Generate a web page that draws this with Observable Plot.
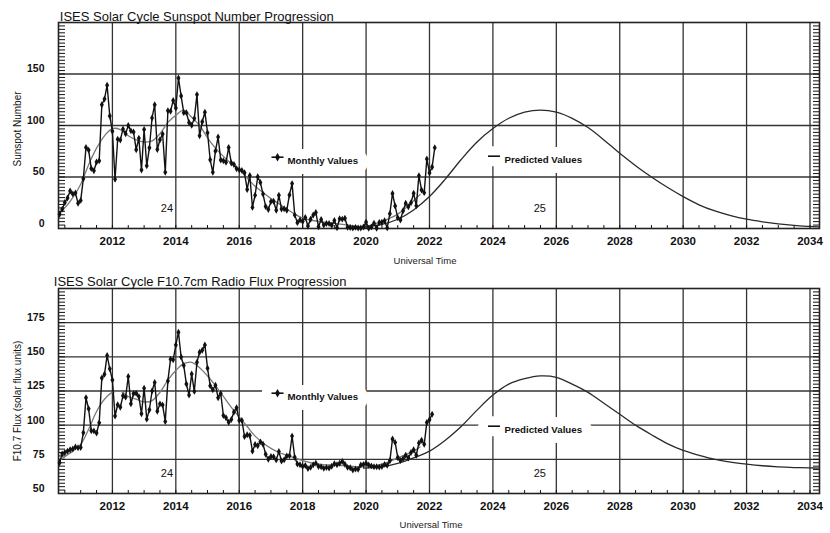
<!DOCTYPE html>
<html><head><meta charset="utf-8">
<script src="https://cdn.jsdelivr.net/npm/d3@7"></script>
<script src="https://cdn.jsdelivr.net/npm/@observablehq/plot@0.6"></script>
<style>
html,body{margin:0;padding:0;background:#fff;}
#chart{position:relative;width:830px;height:533px;overflow:hidden;background:#fff;}
#chart > svg{position:absolute;left:0;}
</style></head><body><div id="chart"></div>
<script>
// ---------- data ----------
const firstYear = 2010, firstMonth = 5; // monthly series start (May 2010)

const sunspotMonthly = [
  13.9, 18.8, 25.2, 29.6, 36.4, 33.6, 34.4, 24.5,
  27.3, 48.3, 78.6, 76.1, 58.2, 56.1, 64.5, 65.8, 120.1, 125.7, 139.1, 109.3,
  94.4, 47.8, 86.6, 85.9, 96.5, 92.0, 100.1, 94.8, 93.7, 76.5, 87.6, 56.8,
  96.1, 60.9, 78.3, 107.3, 120.2, 76.7, 86.2, 91.8, 54.5, 114.4, 113.9, 124.2,
  117.0, 146.1, 128.7, 112.5, 112.5, 102.9, 100.2, 106.9, 130.0, 90.0, 103.6, 112.9,
  93.0, 66.7, 54.5, 75.3, 88.8, 66.5, 65.8, 64.4, 78.6, 63.6, 62.2, 58.0,
  57.0, 56.4, 54.1, 37.9, 51.5, 20.5, 32.4, 50.2, 44.6, 33.4, 21.4, 18.5,
  26.1, 26.4, 17.7, 32.3, 18.9, 19.2, 17.8, 32.6, 43.6, 13.2, 5.7, 8.2,
  6.8, 10.7, 2.5, 8.9, 13.1, 15.6, 1.6, 8.7, 3.3, 4.9, 4.9, 3.1,
  7.7, 0.8, 9.4, 9.1, 9.9, 1.2, 0.9, 0.5, 1.1, 0.4, 0.5, 1.5,
  6.2, 0.2, 1.5, 5.2, 0.2, 5.8, 6.1, 7.5, 0.6, 14.4, 34.0, 21.8,
  10.4, 8.2, 17.2, 24.5, 21.2, 25.0, 34.3, 22.0, 51.3, 37.4, 34.8, 67.5,
  54.0, 59.7, 78.5
];

const fluxMonthly = [
  72.5, 79, 80, 81, 82, 82.5, 84, 83.5,
  83.7, 94.5, 120, 112, 95.9, 95.8, 94.2, 101.7, 134.5, 137.2, 151, 141.2,
  133.1, 106.7, 115.0, 113.1, 121.5, 120.5, 135.6, 115.7, 123.2, 123.3, 120.9, 108.4,
  127.1, 104.4, 111.3, 125.0, 131.3, 110.2, 115.6, 114.7, 102.7, 132.4, 148.3, 147.8,
  158.6, 168, 149.9, 143.7, 130.1, 122.1, 137.4, 124.7, 146.1, 153.4, 154.8, 158.7,
  141.7, 128.8, 125.9, 129.2, 120.1, 123.2, 107.0, 105.4, 102.1, 104.1, 109.6, 112.8,
  103.5, 103.5, 91.7, 93.0, 92.4, 81.0, 85.9, 85.0, 87.8, 86.1, 78.7, 75.1,
  77.1, 76.9, 74.6, 80.7, 73.8, 74.7, 77.5, 77.6, 92, 76.5, 71.6, 71.1,
  69.9, 70.5, 68.3, 69.1, 71.0, 72.2, 69.8, 69.6, 68.4, 69.0, 68.7, 69.9,
  71.8, 71.0, 72.1, 73.5, 71.4, 69.1, 68.9, 67.2, 67.9, 67.8, 70.9, 71.2,
  72.1, 70.9, 70.2, 69.6, 69.6, 69.3, 69.8, 71.3, 70.6, 73.9, 89.9, 87.4,
  76.3, 74.1, 75.5, 78.0, 76.0, 80.0, 82.0, 78.0, 87.0, 89.0, 86.0, 102.0,
  104.0, 108.0
];

const smoothYears = [2010.33, 2010.5, 2010.75, 2011.0, 2011.25, 2011.5, 2011.75, 2012.0, 2012.25, 2012.5,
  2012.75, 2013.0, 2013.25, 2013.5, 2013.75, 2014.0, 2014.25, 2014.5, 2014.75, 2015.0,
  2015.25, 2015.5, 2015.75, 2016.0, 2016.25, 2016.5, 2016.75, 2017.0, 2017.25, 2017.5,
  2017.75, 2018.0, 2018.25, 2018.5, 2018.75, 2019.0, 2019.25, 2019.5, 2019.75, 2020.0,
  2020.25, 2020.5, 2020.75, 2021.0, 2021.25, 2021.5, 2021.7];
const sunspotSmooth = [15, 20, 30, 43, 62, 78, 90, 97, 96, 90,
  86, 84, 85, 92, 103, 110, 115, 108, 100, 88,
  78, 70, 63, 57, 49, 41, 35, 29, 24, 19,
  14, 10, 8, 7, 6, 5, 4, 3, 2, 2,
  4, 7, 10, 14, 20, 27, 33];
const fluxSmooth = [74, 77, 81, 86, 97, 110, 119, 124, 125, 121,
  119, 117, 118, 124, 133, 140, 145, 146, 142, 136,
  129, 121, 113, 106, 99, 92, 87, 83, 80, 78,
  76, 74, 72.5, 71.5, 71, 71, 70.5, 70, 69.5, 69.5,
  70, 71.5, 73.5, 76, 78.5, 81, 84];

const predYears = [2019.92, 2020.5, 2021.0, 2021.5, 2022.0, 2022.5, 2023.0, 2023.5, 2024.0, 2024.5,
  2025.0, 2025.5, 2026.0, 2026.5, 2027.0, 2027.5, 2028.0, 2028.5, 2029.0, 2029.5,
  2030.0, 2030.5, 2031.0, 2031.5, 2032.0, 2032.5, 2033.0, 2033.5, 2034.0, 2034.3];
const sunspotPredicted = [1.5, 4, 9, 18, 31, 48, 67, 84, 97, 107,
  113, 115, 113, 107, 98, 86, 73, 61, 50, 40,
  31, 23, 17, 12.5, 9, 6.5, 4.5, 3, 2, 1.5];
const fluxPredicted = [68.5, 69.5, 72, 76, 81, 89, 99, 111, 122, 130,
  134, 136, 135, 130, 124, 116, 108, 100, 93, 86.5,
  81.5, 78, 75, 73, 71.5, 70.3, 69.5, 69, 68.7, 68.6];

const xTickYears = [2012, 2014, 2016, 2018, 2020, 2022, 2024, 2026, 2028, 2030, 2032, 2034];
const sunspotTicks = [0, 50, 100, 150];
const sunspotGridValues = [50, 100, 150];
const fluxTicks = [50, 75, 100, 125, 150, 175];
const fluxGridValues = [75, 100, 125, 150, 175];
const cycleLabels = ["24", "25"];
const cycleLabelYears = [2013.72, 2025.48];

const titles = ["ISES Solar Cycle Sunspot Number Progression", "ISES Solar Cycle F10.7cm Radio Flux Progression"];
const yTitles = ["Sunspot Number", "F10.7 Flux (solar flux units)"];
const xTitle = "Universal Time";
const legendLabels = ["Monthly Values", "Predicted Values"];

// ---------- drawing ----------
(function () {
const FONT = "Liberation Sans, Arial, sans-serif";
const X_DOMAIN = [2010.3, 2034.3];
const monthX = i => firstYear + (firstMonth - 1 + i) / 12;
const xMinor = d3.range(2010.5, 2034.3, 0.5);
const dashSymbol = {draw(ctx) { ctx.moveTo(-6, 0); ctx.lineTo(6, 0); }};

function panel(o) {
  const monthly = o.monthly.map((v, i) => ({x: monthX(i), y: v}));
  const smooth = smoothYears.map((x, i) => ({x, y: o.smooth[i]}));
  const pred = predYears.map((x, i) => ({x, y: o.pred[i]}));
  const grid = {stroke: "#333", strokeOpacity: 1, strokeWidth: 1.3};
  const lf = {fontFamily: FONT, fontWeight: "bold", fontSize: 9.7};
  const halo = {fill: "white", stroke: "white", strokeWidth: 20, strokeLinejoin: "round"};
  const L = o.legend;
  return Plot.plot({
    width: 830, height: o.height,
    marginTop: o.marginTop, marginBottom: o.marginBottom, marginLeft: 58, marginRight: 11,
    x: {domain: X_DOMAIN, label: null},
    y: {domain: o.yDomain, label: null},
    style: {fontFamily: FONT, color: "#111", background: "transparent", overflow: "visible"},
    marks: [
      Plot.gridX(xTickYears, grid),
      Plot.gridY(o.grid, grid),
      Plot.axisX(xMinor, {tickSize: -3, tickFormat: () => "", label: null, strokeWidth: 1}),
      Plot.axisY(o.minor, {anchor: "left", tickSize: -7, tickFormat: () => "", label: null, strokeWidth: 1}),
      Plot.axisY(o.minor, {anchor: "right", tickSize: -7, tickFormat: () => "", label: null, strokeWidth: 1}),
      Plot.axisX(xTickYears, {tickSize: 0, tickPadding: 8, tickFormat: d => String(d), label: null,
        fontWeight: "bold", fontSize: 11.5}),
      Plot.axisY(o.ticks, {anchor: "left", tickSize: 0, tickPadding: 14, dy: -5, tickFormat: d => String(d),
        label: null, fontWeight: "bold", fontSize: 10.5}),
      Plot.frame({stroke: "#222", strokeWidth: 1.6}),
      // legend backgrounds
      Plot.text([legendLabels[0]], {frameAnchor: "top-left", dx: 229, dy: L.monthlyDy, textAnchor: "start", ...lf, ...halo}),
      Plot.dot([0], {frameAnchor: "top-left", dx: 219, dy: L.monthlyDy, symbol: dashSymbol, fill: "none",
        stroke: "white", strokeWidth: 20, strokeLinecap: "round"}),
      Plot.text([legendLabels[1]], {frameAnchor: "top-left", dx: 446, dy: L.predDy, textAnchor: "start", ...lf, ...halo}),
      Plot.dot([0], {frameAnchor: "top-left", dx: 435.5, dy: L.predDy, symbol: dashSymbol, fill: "none",
        stroke: "white", strokeWidth: 20, strokeLinecap: "round"}),
      // data
      Plot.line(smooth, {x: "x", y: "y", stroke: "#7a7a7a", strokeWidth: 1.3, curve: "catmull-rom"}),
      Plot.line(pred, {x: "x", y: "y", stroke: "#2a2a2a", strokeWidth: 1.3, curve: "catmull-rom"}),
      Plot.line(monthly, {x: "x", y: "y", stroke: "#111", strokeWidth: 1.4}),
      Plot.dot(monthly, {x: "x", y: "y", symbol: "diamond", r: 2.1, fill: "#111"}),
      // legend foreground
      Plot.dot([0], {frameAnchor: "top-left", dx: 219, dy: L.monthlyDy, symbol: dashSymbol, fill: "none",
        stroke: "#111", strokeWidth: 1.6}),
      Plot.dot([0], {frameAnchor: "top-left", dx: 219, dy: L.monthlyDy, symbol: "diamond", r: 2.6, fill: "#111"}),
      Plot.text([legendLabels[0]], {frameAnchor: "top-left", dx: 229, dy: L.monthlyDy, textAnchor: "start", ...lf, fill: "#111"}),
      Plot.dot([0], {frameAnchor: "top-left", dx: 435.5, dy: L.predDy, symbol: dashSymbol, fill: "none",
        stroke: "#111", strokeWidth: 1.6}),
      Plot.text([legendLabels[1]], {frameAnchor: "top-left", dx: 446, dy: L.predDy, textAnchor: "start", ...lf, fill: "#111"}),
      // cycle labels
      Plot.text(cycleLabels, {x: (d, i) => cycleLabelYears[i], frameAnchor: "bottom", dy: o.cycleDy,
        textAnchor: "middle", fontSize: 11, fontFamily: FONT, fill: "#111"}),
      // titles
      Plot.text([o.title], {frameAnchor: "top-left", dx: o.titleDx, dy: o.titleDy, textAnchor: "start",
        fontSize: 13, fontFamily: FONT, fill: "#111"}),
      Plot.text([o.yTitle], {frameAnchor: "left", rotate: -90, dx: -41, dy: o.yTitleDy, textAnchor: "middle",
        fontSize: 10, fontFamily: FONT, fill: "#111"}),
      Plot.text([xTitle], {frameAnchor: "bottom", dx: o.xTitleDx, dy: o.xTitleDy, textAnchor: "middle",
        fontSize: 9.5, fontFamily: FONT, fill: "#222"})
    ]
  });
}

const topPanel = panel({
  height: 268, marginTop: 22, marginBottom: 40,
  yDomain: [0, 200], ticks: sunspotTicks, grid: sunspotGridValues,
  minor: d3.range(0, 60).map(i => i * 10 / 3),
  monthly: sunspotMonthly, smooth: sunspotSmooth, pred: sunspotPredicted,
  legend: {monthlyDy: 134.7, predDy: 133.7},
  cycleDy: -17, title: titles[0], titleDx: 1.3, titleDy: -10.3,
  yTitle: yTitles[0], yTitleDy: 3.5, xTitleDx: -14, xTitleDy: 35
});
const bottomPanel = panel({
  height: 265, marginTop: 20, marginBottom: 40,
  yDomain: [50, 200], ticks: fluxTicks, grid: fluxGridValues,
  minor: d3.range(50, 200, 2.5),
  monthly: fluxMonthly, smooth: fluxSmooth, pred: fluxPredicted,
  legend: {monthlyDy: 104.7, predDy: 137.7},
  cycleDy: -16.5, title: titles[1], titleDx: -4.7, titleDy: -12,
  yTitle: yTitles[1], yTitleDy: 10, xTitleDx: -8, xTitleDy: 34
});
topPanel.style.top = "0px";
bottomPanel.style.top = "268px";
const chart = document.getElementById("chart");
chart.appendChild(topPanel);
chart.appendChild(bottomPanel);
})();
</script>
</body></html>
